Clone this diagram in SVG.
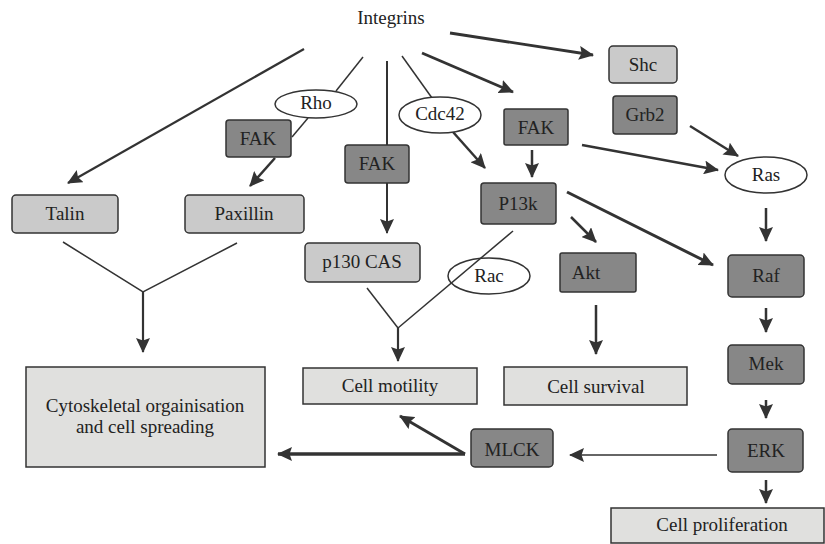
<svg xmlns="http://www.w3.org/2000/svg" width="825" height="544" viewBox="0 0 825 544">
<defs>
<marker id="ah" viewBox="0 0 15 14" markerWidth="15" markerHeight="14" markerUnits="userSpaceOnUse" refX="14" refY="7" orient="auto">
<path d="M0,0 L15,7 L0,14 L2.5,7 z" fill="#333"/>
</marker>
<style>
text{font-family:"Liberation Serif","Times New Roman",serif;font-size:19px;fill:#222;text-anchor:middle}
.dk{fill:#878787;stroke:#333;stroke-width:1.5}
.lt{fill:#cacaca;stroke:#333;stroke-width:1.5}
.out{fill:#e0e0de;stroke:#333;stroke-width:1.5}
.el{fill:#fff;stroke:#333;stroke-width:1.5}
.c{fill:none;stroke:#333;stroke-linecap:butt}
.a{marker-end:url(#ah)}
</style>
</defs>
<rect width="825" height="544" fill="#fff"/>
<g id="connectors">
<path class="c a" stroke-width="2.2" d="M304,49 L68,183"/>
<path class="c" stroke-width="1.5" d="M363,57 L336,91"/>
<path class="c" stroke-width="1.5" d="M308,118 L292,137"/>
<path class="c a" stroke-width="2.5" d="M275,158 L250,186"/>
<path class="c a" stroke-width="2" d="M387,61 L387,233"/>
<path class="c" stroke-width="1.5" d="M402,56 L432,98"/>
<path class="c a" stroke-width="2.5" d="M453,132 L485,168"/>
<path class="c a" stroke-width="2.8" d="M422,53 L513,92"/>
<path class="c a" stroke-width="2.8" d="M450,33 L593,55"/>
<path class="c a" stroke-width="2.5" d="M690,126 L738,156"/>
<path class="c a" stroke-width="2.5" d="M532,150 L532,177"/>
<path class="c a" stroke-width="2.5" d="M582,145 L718,170"/>
<path class="c a" stroke-width="3" d="M567,192 L713,265"/>
<path class="c a" stroke-width="2.5" d="M571,217 L596,242"/>
<path class="c a" stroke-width="2.5" d="M596,305 L596,354"/>
<path class="c" stroke-width="1.5" d="M367,288 L398,328"/>
<path class="c a" stroke-width="2.2" d="M398,328 L398,361"/>
<path class="c" stroke-width="1.5" d="M63,242 L143,292 L237,243"/>
<path class="c a" stroke-width="2.2" d="M143,292 L143,352"/>
<path class="c a" stroke-width="2.5" d="M766,208 L766,241"/>
<path class="c a" stroke-width="2.5" d="M766,308 L766,332"/>
<path class="c a" stroke-width="2.5" d="M766,400 L766,418"/>
<path class="c a" stroke-width="2.5" d="M766,480 L766,503"/>
<path class="c a" stroke-width="1.5" d="M717,455 L570,455"/>
<path class="c a" stroke-width="3.5" d="M465,454 L278,454"/>
<path class="c a" stroke-width="3" d="M465,454 L400,416"/>
</g>
<g id="integrins"><text x="391" y="24">Integrins</text></g>
<g id="shc"><rect class="lt" x="609" y="46" width="68" height="37" rx="4"/><text x="643" y="71">Shc</text></g>
<g id="grb2"><rect class="dk" x="613" y="96" width="64" height="38" rx="3"/><text x="645" y="121">Grb2</text></g>
<g id="rho"><ellipse class="el" cx="316" cy="104" rx="41" ry="14"/><text x="316" y="109">Rho</text></g>
<g id="cdc42"><ellipse class="el" cx="440" cy="115" rx="41" ry="18"/><text x="440" y="120">Cdc42</text></g>
<g id="fak1"><rect class="dk" x="226" y="120" width="65" height="37" rx="3"/><text x="258" y="145">FAK</text></g>
<g id="fak2"><rect class="dk" x="345" y="145" width="64" height="38" rx="3"/><text x="377" y="170">FAK</text></g>
<g id="fak3"><rect class="dk" x="504" y="109" width="64" height="36" rx="2"/><text x="536" y="134">FAK</text></g>
<g id="ras"><ellipse class="el" cx="766" cy="175" rx="41" ry="18"/><text x="766" y="181">Ras</text></g>
<g id="p13k"><rect class="dk" x="481" y="183" width="75" height="41" rx="3"/><text x="518" y="210">P13k</text></g>
<g id="talin"><rect class="lt" x="12" y="195" width="106" height="38" rx="4"/><text x="65" y="220">Talin</text></g>
<g id="paxillin"><rect class="lt" x="185" y="195" width="119" height="38" rx="4"/><text x="244" y="220">Paxillin</text></g>
<g id="p130cas"><rect class="lt" x="305" y="243" width="115" height="39" rx="4"/><text x="362" y="268">p130 CAS</text></g>
<g id="rac"><ellipse class="el" cx="489" cy="276" rx="41" ry="18"/><text x="489" y="282">Rac</text></g>
<g id="rac-line"><path class="c" stroke-width="1.5" d="M513,231 L398,328"/></g>
<g id="akt"><rect class="dk" x="560" y="253" width="76" height="39" rx="2"/><text x="586" y="279">Akt</text></g>
<g id="raf"><rect class="dk" x="728" y="255" width="76" height="42" rx="4"/><text x="766" y="282">Raf</text></g>
<g id="mek"><rect class="dk" x="728" y="345" width="76" height="39" rx="4"/><text x="766" y="370">Mek</text></g>
<g id="erk"><rect class="dk" x="728" y="429" width="75" height="43" rx="4"/><text x="766" y="457">ERK</text></g>
<g id="mlck"><rect class="dk" x="471" y="429" width="82" height="38" rx="4"/><text x="512" y="456">MLCK</text></g>
<g id="cell-motility"><rect class="out" x="303" y="368" width="174" height="36"/><text x="390" y="392">Cell motility</text></g>
<g id="cell-survival"><rect class="out" x="504" y="367" width="183" height="38"/><text x="596" y="393">Cell survival</text></g>
<g id="cytoskeletal"><rect class="out" x="26" y="367" width="239" height="100"/><text x="145" y="412">Cytoskeletal orgainisation</text><text x="145" y="433">and cell spreading</text></g>
<g id="cell-proliferation"><rect class="out" x="611" y="508" width="213" height="35"/><text x="722" y="531">Cell proliferation</text></g>
</svg>
